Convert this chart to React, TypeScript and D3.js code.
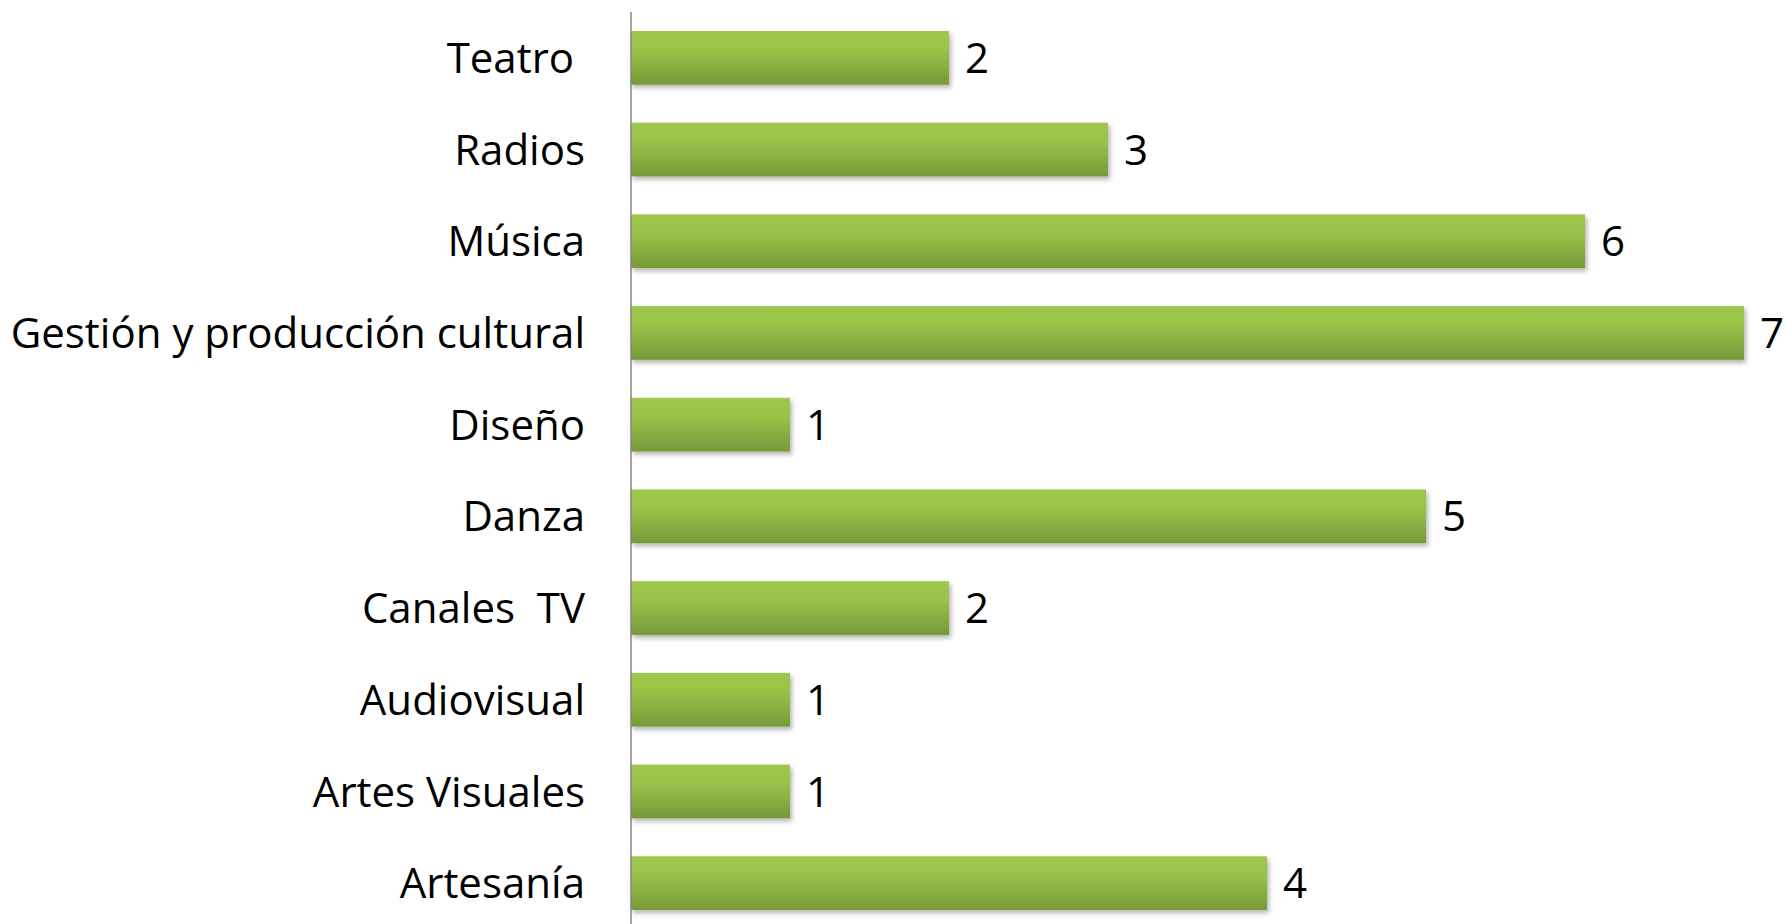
import React, { useEffect, useRef } from 'react';
import * as d3 from 'd3';

const categories = [
  'Teatro ',
  'Radios',
  'Música',
  'Gestión y producción cultural',
  'Diseño',
  'Danza',
  'Canales  TV',
  'Audiovisual',
  'Artes Visuales',
  'Artesanía',
];
const values = [2, 3, 6, 7, 1, 5, 2, 1, 1, 4];

const width = 1787;
const height = 924;

const App: React.FC = () => {
  const svgRef = useRef<SVGSVGElement>(null);

  useEffect(() => {
    if (!svgRef.current) return;
    const svg = d3.select(svgRef.current);
    svg.selectAll('*').remove();

    const axisX = 631;
    const font = "'Open Sans', sans-serif";

    // scales
    const x = d3.scaleLinear().domain([0, 7]).range([axisX, 1744]);
    const y = d3.scaleBand<string>()
      .domain(categories)
      .range([12, 929])
      .paddingInner(0.414)
      .paddingOuter(0.207);

    const defs = svg.append('defs');
    const grad = defs.append('linearGradient')
      .attr('id', 'barGrad')
      .attr('x1', 0).attr('y1', 0).attr('x2', 0).attr('y2', 1);
    grad.append('stop').attr('offset', '0%').attr('stop-color', '#9fc74d');
    grad.append('stop').attr('offset', '35%').attr('stop-color', '#9ac249');
    grad.append('stop').attr('offset', '100%').attr('stop-color', '#779939');

    const shadow = defs.append('filter')
      .attr('id', 'shadow')
      .attr('x', '-5%').attr('y', '-20%')
      .attr('width', '110%').attr('height', '150%');
    shadow.append('feDropShadow')
      .attr('dx', 2).attr('dy', 3)
      .attr('stdDeviation', 2.5)
      .attr('flood-color', '#000')
      .attr('flood-opacity', 0.3);

    const rows = categories.map((c, i) => ({ cat: c, val: values[i] }));

    // bars
    svg.append('g')
      .selectAll('rect')
      .data(rows)
      .enter()
      .append('rect')
      .attr('x', x(0))
      .attr('y', d => y(d.cat) || 0)
      .attr('width', d => x(d.val) - x(0))
      .attr('height', y.bandwidth())
      .attr('fill', 'url(#barGrad)')
      .attr('filter', 'url(#shadow)');

    // value labels
    svg.append('g')
      .selectAll('text')
      .data(rows)
      .enter()
      .append('text')
      .attr('x', d => x(d.val) + 16)
      .attr('y', d => (y(d.cat) || 0) + y.bandwidth() / 2)
      .attr('dy', '0.36em')
      .style('font-family', font)
      .style('font-size', '42px')
      .attr('fill', '#000')
      .text(d => d.val);

    // category labels
    svg.append('g')
      .selectAll('text')
      .data(rows)
      .enter()
      .append('text')
      .attr('x', 585)
      .attr('y', d => (y(d.cat) || 0) + y.bandwidth() / 2)
      .attr('dy', '0.36em')
      .attr('text-anchor', 'end')
      .style('white-space', 'pre')
      .attr('xml:space', 'preserve')
      .style('font-family', font)
      .style('font-size', '42px')
      .attr('fill', '#000')
      .text(d => d.cat);

    // vertical axis line
    svg.append('line')
      .attr('x1', axisX).attr('x2', axisX)
      .attr('y1', 12).attr('y2', height)
      .attr('stroke', '#868686')
      .attr('stroke-width', 1.5);
  }, []);

  return (
    <svg
      ref={svgRef}
      width={width}
      height={height}
      style={{ position: 'absolute', left: 0, top: 0, background: '#fff' }}
    />
  );
};

export default App;
